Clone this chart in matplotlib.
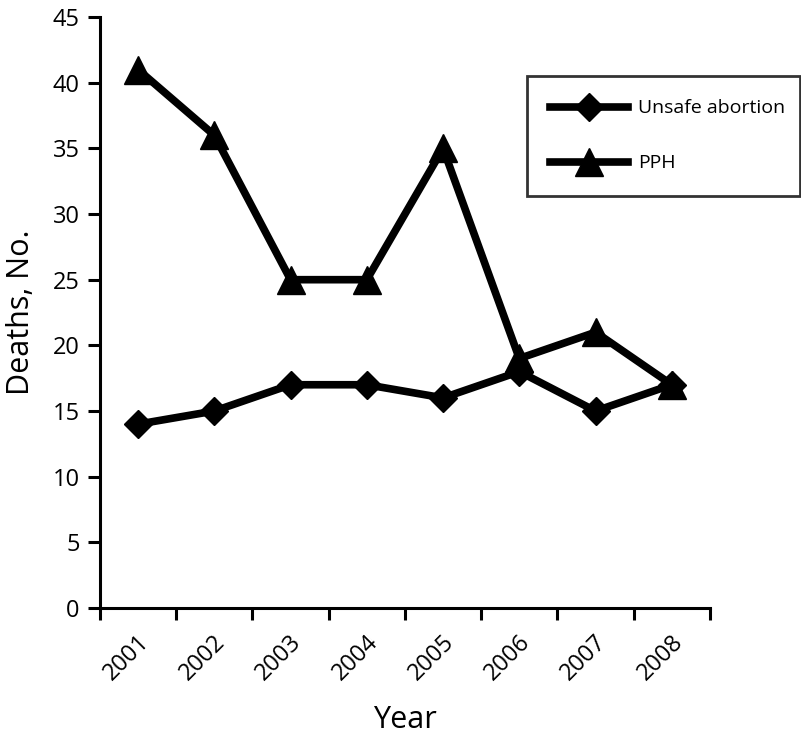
import numpy as np
import matplotlib.pyplot as plt
import matplotlib.transforms as mtransforms

plt.rcParams['font.family'] = ['Open Sans', 'DejaVu Sans']

years = ['2001', '2002', '2003', '2004', '2005', '2006', '2007', '2008']
unsafe_abortion = [14, 15, 17, 17, 16, 18, 15, 17]
pph = [41, 36, 25, 25, 35, 19, 21, 17]

fig = plt.figure(figsize=(8.01, 7.35), dpi=100)
ax = fig.add_axes([0.1248, 0.1728, 0.7615, 0.804])

x = np.arange(len(years)) + 0.5
ax.plot(x, unsafe_abortion, color='black', lw=5.5, marker='D', ms=14,
        label='Unsafe abortion', clip_on=False)
ax.plot(x, pph, color='black', lw=5.5, marker='^', ms=20,
        label='PPH', clip_on=False)

ax.set_xlim(0, len(years))
ax.set_ylim(0, 45)
ax.set_yticks(np.arange(0, 46, 5))
ax.set_xticks(np.arange(0, len(years) + 1))
ax.set_xticklabels([])
ax.set_xticks(x, minor=True)
ax.set_xticklabels(years, minor=True, rotation=45, ha='right', fontsize=17)
ax.tick_params(axis='x', which='minor', length=0, pad=16)
ax.tick_params(axis='both', which='major', length=8.5, width=2.2, labelsize=17)
ax.tick_params(axis='y', pad=6)

offset = mtransforms.ScaledTranslation(0.16, 0, fig.dpi_scale_trans)
for lbl in ax.get_xticklabels(minor=True):
    lbl.set_transform(lbl.get_transform() + offset)

for s in ['top', 'right']:
    ax.spines[s].set_visible(False)
for s in ['left', 'bottom']:
    ax.spines[s].set_linewidth(2.2)

ax.set_xlabel('Year', fontsize=22, labelpad=14)
ax.set_ylabel('Deaths, No.', fontsize=22, labelpad=12)

leg = ax.legend(loc='upper left', bbox_to_anchor=(0.70, 0.70, 0.448, 0.20),
                mode='expand', fontsize=14, frameon=True, fancybox=False,
                edgecolor='black', handlelength=4.0, labelspacing=1.9,
                borderpad=1.2, handletextpad=0.5, borderaxespad=0)
leg.get_frame().set_linewidth(2)

fig.savefig('out.png', dpi=100)
